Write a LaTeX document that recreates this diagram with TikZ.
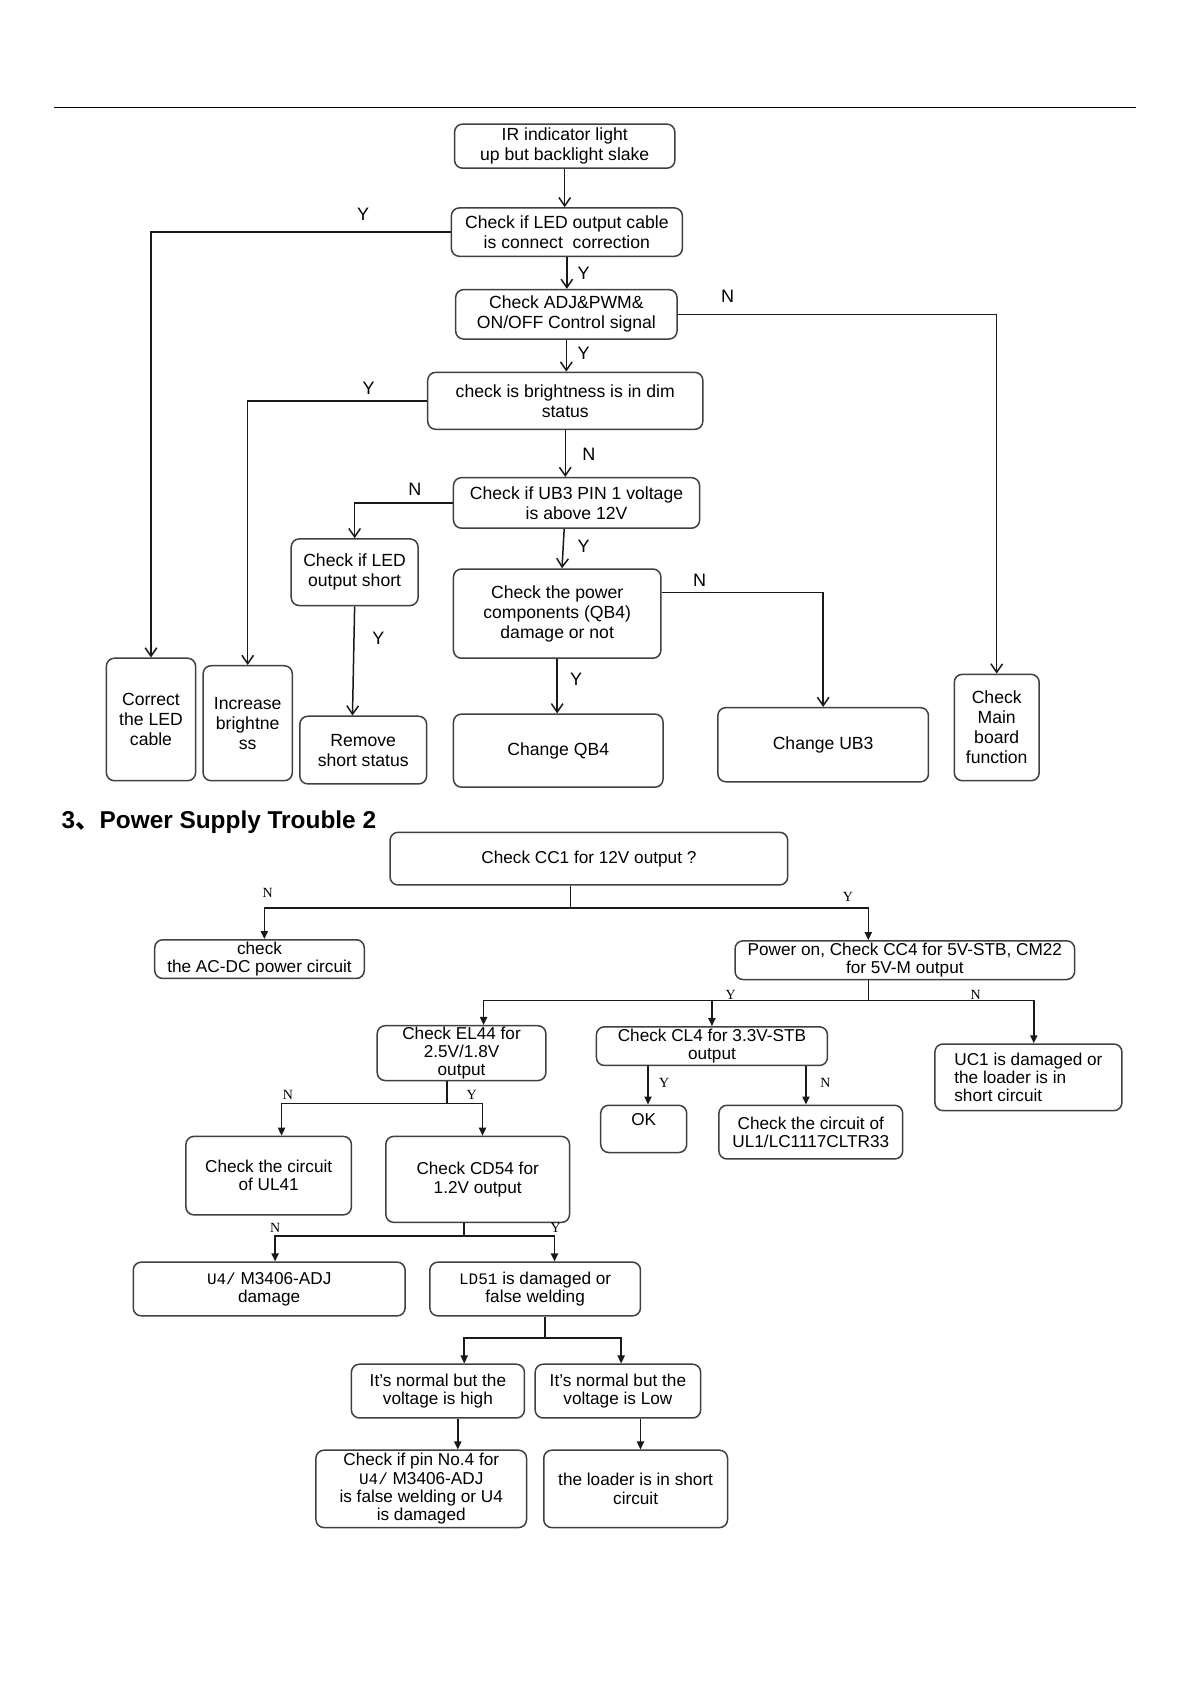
\documentclass[tikz,border=0pt]{standalone}
\usepackage{fontspec}
\setmainfont{Liberation Sans}
\newfontfamily\cjkfont{Noto Sans CJK SC}
\newfontfamily\yfont{Liberation Serif}
\newfontfamily\monofont{Liberation Mono}
\usetikzlibrary{arrows.meta}
\def\U{0.5375pt}
\tikzset{
 bx/.style={draw=black!75, line width=0.75pt, rounded corners=4pt, inner sep=0pt, align=center, font=\fontsize{8.8}{10}\selectfont},
 bxb/.style={bx, font=\fontsize{8.6}{9.2}\selectfont},
 ln/.style={draw=black!90, line width=0.75pt},
 arA/.style={ln, -{Straight Barb[length=4.2pt,width=5.8pt]}},
 arB/.style={ln, -{Triangle[length=4pt,width=3.6pt]}},
 lbA/.style={font=\fontsize{9}{10}\selectfont, inner sep=0pt},
 lbB/.style={font=\yfont\fontsize{7}{8}\selectfont, inner sep=0pt},
 txB/.style={font=\fontsize{8.6}{9.2}\selectfont, inner sep=0pt, align=center},
}
% box from corner (x1,y1) to (x2,y2)
\newcommand\bxnode[7]{\node[#1, minimum width={(#4-#2)*\U}, minimum height={(#5-#3)*\U}] (#6) at ({(#2+#4)/2},{(#3+#5)/2+1.5}) {#7};}
\newcommand\mt[1]{{\monofont\fontsize{8}{9.2}\selectfont #1}}
\begin{document}
\begin{tikzpicture}[x=0.5375pt,y=-0.5375pt]
\useasboundingbox (0,0) rectangle (1108,1568);
\fill[white] (0,0) rectangle (1108,1568);
\coordinate (r1) at (50,100);
\coordinate (r2) at (1057,100);
\draw[line width=0.8pt] (r1) -- (r2);

% ---------- Part 1 ----------
\bxnode{bx}{423}{114}{628}{155}{ir}{IR indicator light\\up but backlight slake}
\bxnode{bx}{420}{192}{635}{237}{ledc}{Check if LED output cable\\is connect\ \ correction}
\bxnode{bx}{424}{268}{630}{314}{adj}{Check ADJ\&PWM\&\\ON/OFF Control signal}
\bxnode{bx}{398}{345}{654}{398}{brt}{check is brightness is in dim\\status}
\bxnode{bx}{422}{443}{651}{490}{ub3}{Check if UB3 PIN 1 voltage\\is above 12V}
\bxnode{bx}{271}{500}{389}{562}{leds}{Check if LED\\output short}
\bxnode{bx}{422}{528}{615}{611}{qb4c}{Check the power\\components (QB4)\\damage or not}
\bxnode{bx}{99}{611}{182}{725}{cor}{Correct\\the LED\\cable}
\bxnode{bx}{189}{618}{272}{725}{inc}{Increase\\brightne\\ss}
\bxnode{bx}{279}{665}{397}{728}{rem}{Remove\\short status}
\bxnode{bx}{422}{663}{617}{731}{cqb4}{Change QB4}
\bxnode{bx}{668}{657}{864}{726}{cub3}{Change UB3}
\bxnode{bx}{888}{626}{967}{725}{cmb}{Check\\Main\\board\\function}

\draw[arA] (ir.south) -- (ir.south |- ledc.north);
\draw[arA] (ledc.west) -| (cor.north);
\draw[arA] (ledc.south) -- (ledc.south |- adj.north);
\draw[arA] (adj.east) -| (cmb.north);
\draw[arA] (adj.south) -- (adj.south |- brt.north);
\draw[arA] (brt.west) -| (inc.north);
\draw[arA] (brt.south) -- (brt.south |- ub3.north);
\draw[arA] (ub3.west) -| (leds.north);
\draw[arA] ([xshift=-11.5*\U]ub3.south) -- ([xshift=4.5*\U]qb4c.north);
\draw[arA] (leds.south) -- ([xshift=-10*\U]rem.north);
\draw[arA] ([yshift=19.5*\U]qb4c.east) -| (cub3.north);
\draw[arA] (qb4c.south) -- (qb4c.south |- cqb4.north);

\node[lbA] (y1) at (338,199) {Y};
\node[lbA] (y2) at (543,254) {Y};
\node[lbA] (n1) at (677,276) {N};
\node[lbA] (y3) at (543,329) {Y};
\node[lbA] (y4) at (343,361) {Y};
\node[lbA] (n2) at (548,423) {N};
\node[lbA] (n3) at (386,455) {N};
\node[lbA] (y5) at (543,508) {Y};
\node[lbA] (y6) at (352,594) {Y};
\node[lbA] (n4) at (651,540) {N};
\node[lbA] (y7) at (536,632) {Y};

% ---------- Title ----------
\node[anchor=base west, inner sep=0pt, font=\bfseries\fontsize{12.2}{13}\selectfont] (title) at (57,771) {3{\cjkfont 、}Power Supply Trouble 2};

% ---------- Part 2 ----------
\bxnode{bxb}{363}{773}{733}{822}{cc1}{Check CC1 for 12V output ?}
\bxnode{bxb}{144}{873}{339}{909}{ac}{check\\the AC-DC power circuit}
\bxnode{bxb}{684}{874}{1000}{910}{pwr}{Power on, Check CC4 for 5V-STB, CM22\\for 5V-M output}
\bxnode{bxb}{351}{953}{508}{1004}{el44}{Check EL44 for\\2.5V/1.8V\\output}
\bxnode{bxb}{555}{954}{770}{990}{cl4}{Check CL4 for 3.3V-STB\\output}
\bxnode{bxb,align=left}{870}{970}{1044}{1032}{uc1}{UC1 is damaged or\\the loader is in\\short circuit}
\bxnode{bxb}{559}{1027}{639}{1071}{ok}{}
\node[txB] (oktext) at (599,1042) {OK};
\bxnode{bxb}{669}{1027}{840}{1077}{ul1}{Check the circuit of\\UL1/LC1117CLTR33}
\bxnode{bxb}{173}{1056}{327}{1129}{ul41}{Check the circuit\\of UL41}
\bxnode{bxb}{359}{1056}{530}{1136}{cd54}{Check CD54 for\\1.2V output}
\bxnode{bxb}{124}{1173}{377}{1223}{u4}{\mt{U4/} M3406-ADJ\\damage}
\bxnode{bxb}{400}{1173}{596}{1223}{ld51}{\mt{LD51} is damaged or\\false welding}
\bxnode{bxb}{327}{1268}{488}{1318}{high}{It’s normal but the\\voltage is high}
\bxnode{bxb}{498}{1268}{652}{1318}{low}{It’s normal but the\\voltage is Low}
\bxnode{bxb}{294}{1348}{490}{1420}{pin4}{Check if pin No.4 for\\\mt{U4/} M3406-ADJ\\is false welding or U4\\is damaged}
\bxnode{bxb}{506}{1348}{677}{1420}{load}{the loader is in short\\circuit}

\coordinate (j1) at (531,845);
\coordinate (j2) at (808,931);
\coordinate (j3) at (416,1027);
\coordinate (j4) at (432,1150);
\coordinate (j5) at (507,1245);

\draw[ln] ([xshift=-17*\U]cc1.south) -- (j1);
\draw[arB] (j1) -| ([xshift=4.5*\U]ac.north);
\draw[arB] (j1) -| ([xshift=-34*\U]pwr.north);
\draw[ln] ([xshift=-34*\U]pwr.south) -- (j2);
\draw[arB] (j2) -| ([xshift=20.5*\U]el44.north);
\draw[arB] (j2) -| (cl4.north);
\draw[arB] (j2) -| ([xshift=5*\U]uc1.north);
\draw[ln] ([xshift=-13.5*\U]el44.south) -- (j3);
\draw[arB] (j3) -| ([xshift=12*\U]ul41.north);
\draw[arB] (j3) -| ([xshift=4.5*\U]cd54.north);
\draw[arB] ([xshift=-59.5*\U]cl4.south) -- ([xshift=-59.5*\U]cl4.south |- ok.north);
\draw[arB] ([xshift=87.5*\U]cl4.south) -- ([xshift=87.5*\U]cl4.south |- ul1.north);
\draw[ln] ([xshift=-12.5*\U]cd54.south) -- (j4);
\draw[arB] (j4) -| ([xshift=5.5*\U]u4.north);
\draw[arB] (j4) -| ([xshift=18*\U]ld51.north);
\draw[ln] ([xshift=9*\U]ld51.south) -- (j5);
\draw[arB] (j5) -| ([xshift=24.5*\U]high.north);
\draw[arB] (j5) -| ([xshift=3*\U]low.north);
\draw[arB] ([xshift=18.5*\U]high.south) -- ([xshift=18.5*\U]high.south |- pin4.north);
\draw[arB] ([xshift=21*\U]low.south) -- ([xshift=21*\U]low.south |- load.north);

\node[lbB] (ln1) at (249,831) {N};
\node[lbB] (ly1) at (789,835) {Y};
\node[lbB] (ly2) at (680,926) {Y};
\node[lbB] (ln2) at (908,926) {N};
\node[lbB] (ln3) at (268,1019) {N};
\node[lbB] (ly3) at (439,1019) {Y};
\node[lbB] (ly4) at (618,1008) {Y};
\node[lbB] (ln4) at (768,1008) {N};
\node[lbB] (ln5) at (256,1143) {N};
\node[lbB] (ly5) at (517,1143) {Y};
\end{tikzpicture}
\end{document}
